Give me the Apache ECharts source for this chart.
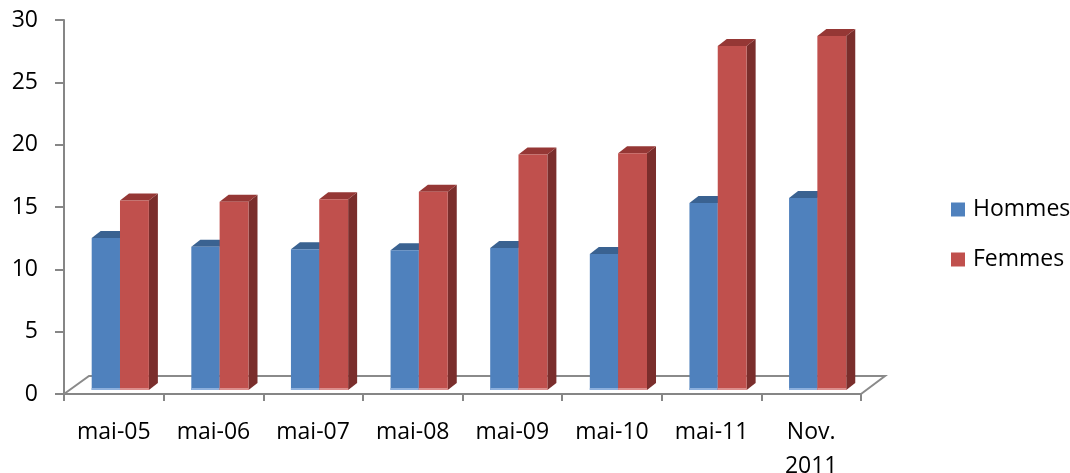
<!DOCTYPE html>
<html>
<head>
<meta charset="utf-8">
<script src="https://cdn.jsdelivr.net/npm/echarts@6/dist/echarts.min.js"></script>
<style>
html,body{margin:0;padding:0;background:#fff;}
#chart{width:1070px;height:473px;}
</style>
</head>
<body>
<div id="chart"></div>
<script>
const categories = ['mai-05','mai-06','mai-07','mai-08','mai-09','mai-10','mai-11','Nov.\n2011'];
const hommes = [12.2, 11.5, 11.3, 11.2, 11.4, 10.9, 15.0, 15.4];
const femmes = [15.2, 15.1, 15.3, 15.9, 18.9, 19.0, 27.6, 28.4];
const yTicks = [0, 5, 10, 15, 20, 25, 30];

const FONT = 'Open Sans';
const FS = 23;
const DX = 9, DY = 7, BASE_SHIFT = 4;

function bar3d(offsets, cFront, cTop, cSide, cBottom) {
  return function (params, api) {
    const i = api.value(0);
    const v = api.value(1);
    const catW = api.size([1, 0])[0];
    const top = api.coord([i, v]);
    const base = api.coord([i, 0]);
    const x0 = top[0] + offsets[0] * catW;
    const x1 = top[0] + offsets[1] * catW;
    const yt = top[1] - BASE_SHIFT;
    const yb = base[1] - BASE_SHIFT;
    return {
      type: 'group',
      children: [
        { type: 'polygon', shape: { points: [[x1, yt], [x1 + DX, yt - DY], [x1 + DX, yb - DY], [x1, yb]] }, style: { fill: cSide } },
        { type: 'polygon', shape: { points: [[x0, yt], [x1, yt], [x1 + DX, yt - DY], [x0 + DX, yt - DY]] }, style: { fill: cTop } },
        { type: 'rect', shape: { x: x0, y: yt, width: x1 - x0, height: yb - yt }, style: { fill: cFront } },
        { type: 'rect', shape: { x: x0, y: yb - 2, width: x1 - x0, height: 2 }, style: { fill: cBottom } }
      ]
    };
  };
}

const chart = echarts.init(document.getElementById('chart'), null, { renderer: 'canvas' });
chart.setOption({
  animation: false,
  backgroundColor: '#fff',
  grid: { left: 64, right: 209, top: 20, bottom: 79, containLabel: false, outerBoundsMode: 'none' },
  legend: {
    orient: 'vertical',
    left: 951,
    top: 198,
    padding: 0,
    itemWidth: 14,
    itemHeight: 14,
    itemGap: 27,
    icon: 'rect',
    data: ['Hommes', 'Femmes'],
    textStyle: { fontFamily: FONT, fontSize: FS, color: '#000', lineHeight: 23, padding: [0, 0, 0, 3] }
  },
  xAxis: {
    type: 'category',
    data: categories,
    boundaryGap: true,
    axisLine: { lineStyle: { color: '#868686', width: 2 } },
    axisTick: { show: true, length: 7, lineStyle: { color: '#868686', width: 2 } },
    axisLabel: { fontFamily: FONT, fontSize: FS, color: '#000', margin: 21, lineHeight: 34, interval: 0 },
    splitLine: { show: false }
  },
  yAxis: {
    type: 'value',
    min: yTicks[0],
    max: yTicks[yTicks.length - 1],
    interval: 5,
    axisLine: { show: true, lineStyle: { color: '#868686', width: 2 } },
    axisTick: { show: true, length: 9, lineStyle: { color: '#868686', width: 2 } },
    axisLabel: { fontFamily: FONT, fontSize: FS, color: '#000', margin: 26 },
    splitLine: { show: false }
  },
  series: [
    {
      name: 'floor',
      type: 'custom',
      silent: true,
      data: [[0, 0]],
      renderItem: function (params, api) {
        const p = api.coord([0, 0]);
        const catW = api.size([1, 0])[0];
        const left = p[0] - catW / 2;
        const right = left + categories.length * catW;
        const y = p[1];
        return {
          type: 'polyline',
          shape: { points: [[left, y], [left + 25, y - 18], [right + 24, y - 18], [right, y]] },
          style: { stroke: '#8a8a8a', lineWidth: 2, fill: null }
        };
      }
    },
    {
      name: 'Hommes',
      type: 'custom',
      itemStyle: { color: '#4F81BD' },
      data: hommes.map((v, i) => [i, v]),
      encode: { x: 0, y: 1 },
      renderItem: bar3d([-0.222, 0.062], '#4F81BD', '#3A6291', '#3A6291', '#8DB0DD')
    },
    {
      name: 'Femmes',
      type: 'custom',
      itemStyle: { color: '#C0504D' },
      data: femmes.map((v, i) => [i, v]),
      encode: { x: 0, y: 1 },
      renderItem: bar3d([0.062, 0.352], '#C0504D', '#953735', '#7A2E2C', '#DC8F8D')
    }
  ]
});
</script>
</body>
</html>
